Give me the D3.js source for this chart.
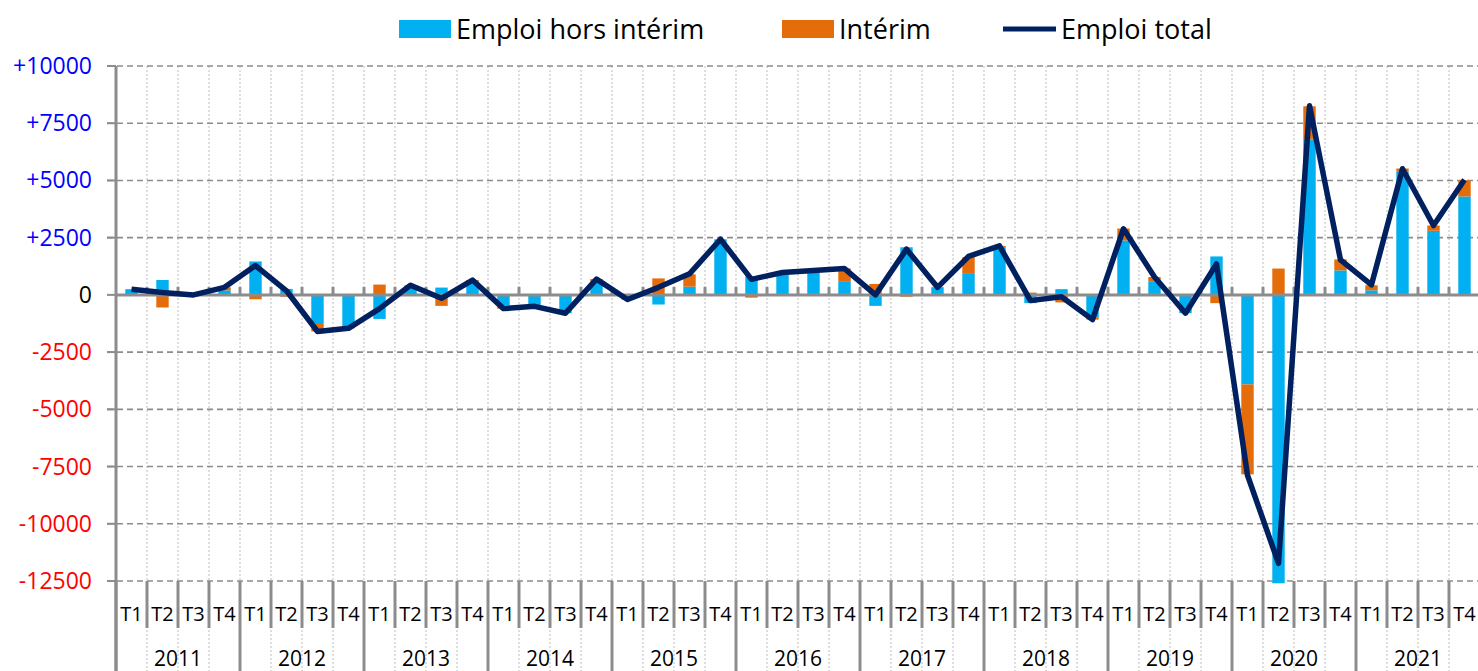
<!DOCTYPE html>
<html>
<head>
<meta charset="utf-8">
<script src="https://cdn.jsdelivr.net/npm/d3@7"></script>
<style>
  body { margin: 0; background: #fff; }
  svg { display: block; font-family: "Open Sans", sans-serif; }
</style>
</head>
<body>
<div id="chart"></div>
<script>
// years and quarters on the category axis
const years = ["2011", "2012", "2013", "2014", "2015", "2016", "2017", "2018", "2019", "2020", "2021"];
const quarters = ["T1", "T2", "T3", "T4"];

// emploi hors intérim (quarterly change)
const horsInterim = [
  250, 650, 30, 200,
  1460, 260, -1270, -1360,
  -1050, 350, 320, 600,
  -470, -460, -800, 600,
  -100, -420, 360, 2400,
  800, 930, 960, 600,
  -480, 2080, 330, 950,
  2050, -360, 250, -1000,
  2380, 600, -800, 1680,
  -3910, -12600, 6780, 1070,
  200, 5400, 2800, 4300
];
// intérim
const interim = [
  0, -550, -30, 130,
  -190, -80, -330, -100,
  450, 70, -480, 50,
  -130, -40, 0, 90,
  -100, 720, 540, 30,
  -120, 50, 80, 560,
  480, -80, 20, 700,
  90, 100, -330, -80,
  520, 180, 0, -360,
  -3930, 1150, 1460, 480,
  220, 120, 230, 700
];
// emploi total
const emploiTotal = [
  250, 100, 0, 330,
  1280, 180, -1600, -1460,
  -600, 420, -150, 650,
  -600, -500, -800, 690,
  -200, 330, 920, 2430,
  680, 980, 1070, 1150,
  0, 2000, 330, 1680,
  2140, -250, -80, -1080,
  2890, 780, -800, 1350,
  -7880, -11730, 8260, 1530,
  440, 5510, 3030, 5030
];
const yTicks = [-12500, -10000, -7500, -5000, -2500, 0, 2500, 5000, 7500, 10000];

const W = 1478, H = 671;
const plotLeft = 116, plotRight = 1480, plotTop = 66, plotBottom = 581;
const blue = "#00b0f0", orange = "#e46c0a", navy = "#002060", grey = "#8c8c8c";

const svg = d3.select("#chart").append("svg")
  .attr("width", W).attr("height", H);

// one entry per quarter
const rows = horsInterim.map((v, i) => ({
  i: i,
  hors: v,
  interim: interim[i],
  total: emploiTotal[i]
}));

const x = d3.scaleBand()
  .domain(rows.map(d => d.i))
  .range([plotLeft, plotRight])
  .paddingInner(0.6)
  .paddingOuter(0.3);
const step = x.step();

const y = d3.scaleLinear()
  .domain([-12500, 10000])
  .range([plotBottom, plotTop]);

// vertical dotted grid at quarter boundaries
const bounds = d3.range(1, rows.length + 1).map(k => plotLeft + k * step);
svg.append("g").selectAll("line")
  .data(bounds)
  .join("line")
  .attr("x1", d => d).attr("x2", d => d)
  .attr("y1", plotTop).attr("y2", H)
  .attr("stroke", "#bdbdbd")
  .attr("stroke-width", 1)
  .attr("stroke-dasharray", "2,2");

// horizontal dashed grid
svg.append("g").selectAll("line")
  .data(yTicks.filter(t => t !== 0))
  .join("line")
  .attr("x1", plotLeft - 9).attr("x2", W)
  .attr("y1", d => y(d)).attr("y2", d => y(d))
  .attr("stroke", grey)
  .attr("stroke-width", 1.6)
  .attr("stroke-dasharray", "6,4");

// stacked bars, diverging from zero
const stack = d3.stack()
  .keys(["hors", "interim"])
  .offset(d3.stackOffsetDiverging);
const series = stack(rows);
const colors = { hors: blue, interim: orange };

svg.append("g").selectAll("g")
  .data(series)
  .join("g")
  .attr("fill", s => colors[s.key])
  .selectAll("rect")
  .data(s => s)
  .join("rect")
  .attr("x", d => x(d.data.i))
  .attr("width", x.bandwidth())
  .attr("y", d => y(Math.max(d[0], d[1])))
  .attr("height", d => Math.abs(y(d[0]) - y(d[1])));

// zero line with small ticks
svg.append("line")
  .attr("x1", plotLeft).attr("x2", W)
  .attr("y1", y(0)).attr("y2", y(0))
  .attr("stroke", grey).attr("stroke-width", 3);
svg.append("g").selectAll("line")
  .data(bounds)
  .join("line")
  .attr("x1", d => d).attr("x2", d => d)
  .attr("y1", y(0) - 8).attr("y2", y(0))
  .attr("stroke", grey).attr("stroke-width", 3);

// y axis line, ticks and labels
svg.append("line")
  .attr("x1", plotLeft).attr("x2", plotLeft)
  .attr("y1", plotTop).attr("y2", H)
  .attr("stroke", grey).attr("stroke-width", 3);
svg.append("g").selectAll("line")
  .data(yTicks)
  .join("line")
  .attr("x1", plotLeft - 9).attr("x2", plotLeft)
  .attr("y1", d => y(d)).attr("y2", d => y(d))
  .attr("stroke", grey).attr("stroke-width", 2);
svg.append("g").selectAll("text")
  .data(yTicks)
  .join("text")
  .attr("x", 92)
  .attr("y", d => y(d) + 8)
  .attr("text-anchor", "end")
  .attr("font-size", 23)
  .attr("fill", d => d > 0 ? "#0000ff" : d < 0 ? "#ff0000" : "#000")
  .text(d => d > 0 ? "+" + d : String(d));

// category axis: quarter separators and year separators
svg.append("g").selectAll("line")
  .data(d3.range(0, rows.length + 1))
  .join("line")
  .attr("x1", k => plotLeft + k * step).attr("x2", k => plotLeft + k * step)
  .attr("y1", plotBottom)
  .attr("y2", k => k % 4 === 0 ? H : 628)
  .attr("stroke", grey).attr("stroke-width", 3);

svg.append("g").selectAll("text")
  .data(rows)
  .join("text")
  .attr("x", d => x(d.i) + x.bandwidth() / 2)
  .attr("y", 621)
  .attr("text-anchor", "middle")
  .attr("font-size", 20)
  .attr("fill", "#000")
  .text(d => quarters[d.i % 4]);

svg.append("g").selectAll("text")
  .data(years)
  .join("text")
  .attr("x", (d, k) => plotLeft + (k * 4 + 2) * step)
  .attr("y", 666)
  .attr("text-anchor", "middle")
  .attr("font-size", 21)
  .attr("fill", "#000")
  .text(d => d);

// total line
const line = d3.line()
  .x(d => x(d.i) + x.bandwidth() / 2)
  .y(d => y(d.total));
svg.append("path")
  .datum(rows)
  .attr("fill", "none")
  .attr("stroke", navy)
  .attr("stroke-width", 5.5)
  .attr("stroke-linejoin", "round")
  .attr("d", line);

// legend
const legend = svg.append("g").attr("font-size", 27).attr("fill", "#000");
legend.append("rect").attr("x", 399).attr("y", 20).attr("width", 52).attr("height", 18).attr("fill", blue);
legend.append("text").attr("x", 456).attr("y", 39).text("Emploi hors intérim");
legend.append("rect").attr("x", 782).attr("y", 20).attr("width", 52).attr("height", 18).attr("fill", orange);
legend.append("text").attr("x", 839).attr("y", 39).text("Intérim");
legend.append("line").attr("x1", 1003).attr("x2", 1056).attr("y1", 29).attr("y2", 29)
  .attr("stroke", navy).attr("stroke-width", 5);
legend.append("text").attr("x", 1061).attr("y", 39).text("Emploi total");
</script>
</body>
</html>
